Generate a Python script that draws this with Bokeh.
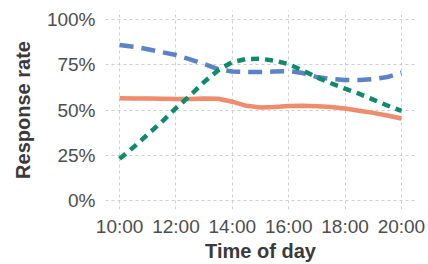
from bokeh.plotting import figure
from bokeh.models import FixedTicker
from bokeh.embed import file_html
from bokeh.resources import INLINE

# Data (hours of day, response rate in %)
hours = [10, 10.5, 11, 11.5, 12, 12.5, 13, 13.5, 14, 14.5, 15, 15.5,
         16, 16.5, 17, 17.5, 18, 18.5, 19, 19.5, 20]
blue_rate = [85.9, 85.0, 83.6, 82.0, 80.4, 78.0, 75.4, 72.6, 71.3, 71.0, 71.0, 71.3,
             71.5, 70.4, 68.2, 67.1, 66.6, 66.6, 67.1, 68.2, 70.6]
orange_rate = [56.5, 56.4, 56.3, 56.2, 56.1, 56.1, 56.3, 56.2, 54.6, 52.3, 51.4, 51.7,
               52.2, 52.3, 52.1, 51.6, 50.8, 49.6, 48.4, 47.0, 45.3]
green_rate = [23.0, 29.5, 36.5, 43.5, 51.0, 58.0, 65.5, 72.0, 76.5, 78.2, 78.3, 77.3,
              75.3, 71.8, 68.0, 64.8, 61.8, 59.0, 55.7, 52.5, 49.5]

x_ticks = [10, 12, 14, 16, 18, 20]
x_tick_labels = ["10:00", "12:00", "14:00", "16:00", "18:00", "20:00"]
y_ticks = [0, 25, 50, 75, 100]
y_tick_labels = ["0%", "25%", "50%", "75%", "100%"]

p = figure(width=428, height=264, output_backend="svg", toolbar_location=None,
           x_range=(9.5, 20.5), y_range=(-5, 105),
           min_border_left=105, min_border_right=13, min_border_top=10, min_border_bottom=54)
p.outline_line_color = None
p.background_fill_color = "white"

p.line(hours, blue_rate, line_color="#5B84C8", line_width=4.5, line_dash="14 8")
p.line(hours, orange_rate, line_color="#EF8C6C", line_width=4.5)
p.line(hours, green_rate, line_color="#0F8A6C", line_width=4.5, line_dash="8 6")

p.xaxis.ticker = FixedTicker(ticks=x_ticks)
p.xaxis.major_label_overrides = {t: l for t, l in zip(x_ticks, x_tick_labels)}
p.yaxis.ticker = FixedTicker(ticks=y_ticks)
p.yaxis.major_label_overrides = {t: l for t, l in zip(y_ticks, y_tick_labels)}

p.xaxis.axis_label = "Time of day"
p.yaxis.axis_label = "Response rate"

for ax in (p.xaxis, p.yaxis):
    ax.axis_line_color = None
    ax.major_tick_line_color = None
    ax.minor_tick_line_color = None
    ax.major_tick_out = 0
    ax.major_tick_in = 0
    ax.major_label_text_font = "Liberation Sans"
    ax.major_label_text_font_size = "19px"
    ax.major_label_text_color = "#4d4d4d"
    ax.axis_label_text_font = "Liberation Sans"
    ax.axis_label_text_font_size = "20px"
    ax.axis_label_text_font_style = "bold"
    ax.axis_label_text_color = "#3a3a3a"

p.xaxis.major_label_standoff = 6
p.yaxis.major_label_standoff = 10
p.xaxis.axis_label_standoff = 0
p.yaxis.axis_label_standoff = 10

p.xgrid.ticker = FixedTicker(ticks=x_ticks)
p.ygrid.ticker = FixedTicker(ticks=y_ticks)
for g in (p.xgrid, p.ygrid):
    g.grid_line_color = "#cfcfcf"
    g.grid_line_width = 1
    g.grid_line_dash = "3 3"

open("out.html", "w").write(file_html(p, INLINE))
